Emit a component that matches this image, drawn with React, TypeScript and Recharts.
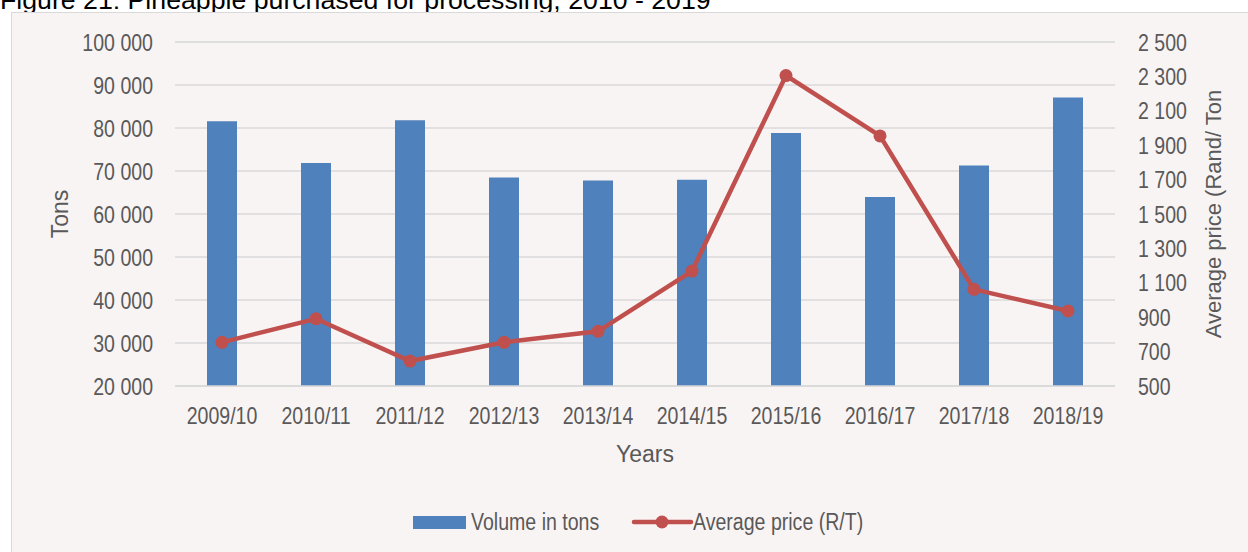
import { Bar, CartesianGrid, ComposedChart, Line, XAxis, YAxis } from 'recharts'

const years = ['2009/10', '2010/11', '2011/12', '2012/13', '2013/14', '2014/15', '2015/16', '2016/17', '2017/18', '2018/19']
const volume = [81560, 71860, 81790, 68470, 67770, 67980, 78840, 63970, 71300, 87100]
const price = [754, 891, 645, 754, 818, 1168, 2305, 1954, 1062, 936]

const volumeTicks = [20000, 30000, 40000, 50000, 60000, 70000, 80000, 90000, 100000]
const priceTicks = [500, 700, 900, 1100, 1300, 1500, 1700, 1900, 2100, 2300, 2500]
const minorTicks = Array.from({ length: 81 }, (_, i) => 20000 + i * 1000)

const data = years.map((y, i) => ({ year: y, volume: volume[i], price: price[i] }))

const FONT = "'Liberation Sans', Arial, sans-serif"
const TEXT = '#595959'
const BLUE = '#4f81bd'
const RED = '#c0504d'
const SQUEEZE = 0.85

const spaced = (v: number) => String(v).replace(/\B(?=(\d{3})+(?!\d))/g, ' ')

// Excel-ish condensed tick text: squeeze horizontally around the anchor point
function NarrowTick(props: any) {
  const { x, y, payload, textAnchor, side } = props
  const label = side === 'x' ? payload.value : spaced(payload.value)
  const dy = side === 'x' ? 38 : 8.5
  return (
    <text
      transform={`translate(${x},${y + dy}) scale(${SQUEEZE},1)`}
      textAnchor={textAnchor}
      fill={TEXT}
      fontSize={23}
      fontFamily={FONT}
    >
      {label}
    </text>
  )
}

const squeezed = { transform: `scaleX(${SQUEEZE})`, transformOrigin: 'left center' }

export default function App() {
  return (
    <div style={{ position: 'absolute', left: 0, top: 0, width: 1248, height: 552, overflow: 'hidden', background: '#fff', fontFamily: FONT }}>
      <div style={{ position: 'absolute', left: 0, top: -15, fontSize: 26.7, color: '#000', whiteSpace: 'nowrap' }}>
        Figure 21: Pineapple purchased for processing, 2010 - 2019
      </div>
      <div style={{ position: 'absolute', left: 11, top: 12, width: 1240, height: 545, background: '#f9f4f4', border: '1px solid #d9d9d9' }} />
      <div style={{ position: 'absolute', left: 0, top: 0 }}>
        <ComposedChart width={1248} height={552} data={data} margin={{ top: 42, right: 23, left: 50, bottom: 86 }}>
          <CartesianGrid yAxisId="minor" vertical={false} stroke="#ebe9e9" strokeWidth={1} />
          <CartesianGrid yAxisId="left" vertical={false} stroke="#d9d9d9" strokeWidth={1.5} />
          <XAxis
            dataKey="year"
            axisLine={{ stroke: '#d9d9d9', strokeWidth: 1.5 }}
            tickLine={false}
            tickSize={0}
            tickMargin={0}
            height={80}
            tick={<NarrowTick side="x" />}
            label={{ value: 'Years', position: 'insideBottom', offset: 4, fill: TEXT, fontSize: 23, fontFamily: FONT }}
          />
          <YAxis yAxisId="minor" hide domain={[20000, 100000]} ticks={minorTicks} />
          <YAxis
            yAxisId="left"
            width={125}
            domain={[20000, 100000]}
            ticks={volumeTicks}
            axisLine={false}
            tickLine={false}
            tickSize={0}
            tickMargin={22}
            tick={<NarrowTick side="y" />}
            label={{ value: 'Tons', angle: -90, position: 'insideLeft', offset: 10, fill: TEXT, fontSize: 23, fontFamily: FONT, style: { textAnchor: 'middle' } }}
          />
          <YAxis
            yAxisId="right"
            orientation="right"
            width={110}
            domain={[500, 2500]}
            ticks={priceTicks}
            axisLine={false}
            tickLine={false}
            tickSize={0}
            tickMargin={23}
            tick={<NarrowTick side="y" />}
            label={{ value: 'Average price (Rand/ Ton', angle: -90, position: 'insideRight', offset: 12, fill: TEXT, fontSize: 22, fontFamily: FONT, style: { textAnchor: 'middle' } }}
          />
          <Bar yAxisId="left" dataKey="volume" fill={BLUE} barSize={30} isAnimationActive={false} />
          <Line
            yAxisId="right"
            dataKey="price"
            stroke={RED}
            strokeWidth={4.5}
            dot={{ r: 6.5, fill: RED, stroke: RED, strokeWidth: 0 }}
            isAnimationActive={false}
          />
        </ComposedChart>
      </div>
      <div style={{ position: 'absolute', left: 413, top: 516, width: 53, height: 13, background: BLUE }} />
      <div style={{ position: 'absolute', left: 471, top: 508, fontSize: 23, color: TEXT, lineHeight: '28px', whiteSpace: 'nowrap', ...squeezed }}>Volume in tons</div>
      <svg style={{ position: 'absolute', left: 630, top: 510 }} width={64} height={24}>
        <line x1={4} y1={12} x2={61} y2={12} stroke={RED} strokeWidth={4.5} strokeLinecap="round" />
        <circle cx={32} cy={12} r={6.5} fill={RED} />
      </svg>
      <div style={{ position: 'absolute', left: 693, top: 508, fontSize: 23, color: TEXT, lineHeight: '28px', whiteSpace: 'nowrap', ...squeezed }}>Average price (R/T)</div>
    </div>
  )
}
